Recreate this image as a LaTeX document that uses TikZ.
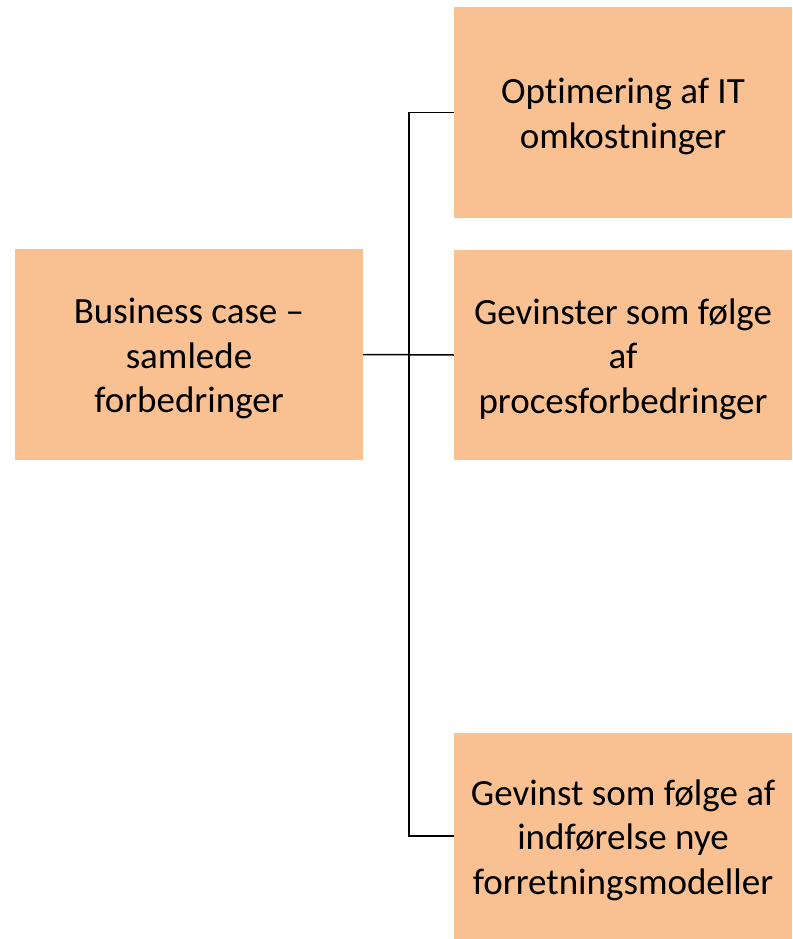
\documentclass[tikz,border=0pt]{standalone}
\usepackage{fontspec}
\setmainfont{Carlito}[Ligatures=NoCommon]
\definecolor{boxfill}{RGB}{249,193,145}
\begin{document}
\begin{tikzpicture}[x=1pt,y=-1pt,
  box/.style={rectangle,fill=boxfill,draw=none,inner sep=0pt},
  txt/.style={align=center,inner sep=0pt,yshift=-4pt,
    font=\fontsize{37}{44.5}\selectfont},
  conn/.style={draw=black,line width=1.5pt}]
\useasboundingbox (0,0) rectangle (792,939);
\node[box,minimum width=348,minimum height=211,
  label={[txt]center:{Business case –\\samlede\\forbedringer}}] (L) at (189,354.5) {};
\node[box,minimum width=338,minimum height=211,
  label={[txt]center:{Optimering af IT\\omkostninger}}] (T) at (623,112.5) {};
\node[box,minimum width=338,minimum height=210,
  label={[txt]center:{Gevinster som følge\\af\\procesforbedringer}}] (M) at (623,355) {};
\node[box,minimum width=338,minimum height=206,
  label={[txt]center:{Gevinst som følge af\\indførelse nye\\forretningsmodeller}}] (B) at (623,836) {};
\coordinate (J) at (409,354.5);
\draw[conn] (L.east) -- (M.west);
\draw[conn] (T.west) -| (J) |- (B.west);
\end{tikzpicture}
\end{document}
